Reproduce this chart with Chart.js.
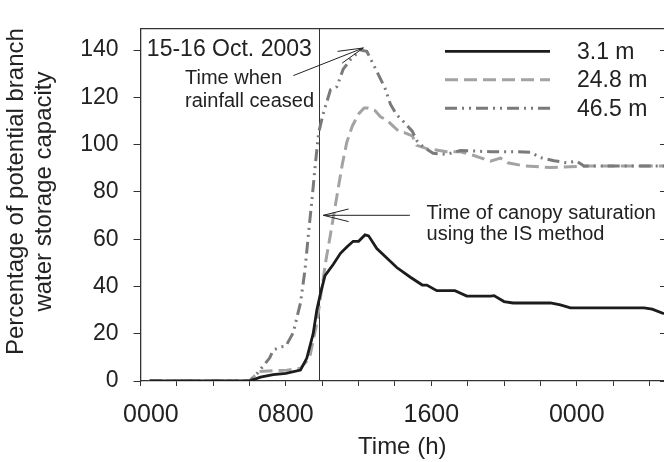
<!DOCTYPE html>
<html>
<head>
<meta charset="utf-8">
<script src="https://cdn.jsdelivr.net/npm/chart.js@4/dist/chart.umd.min.js"></script>
<style>
html, body { margin: 0; padding: 0; background: #fff; }
#wrap { width: 664px; height: 462px; position: relative; }
</style>
</head>
<body>
<div id="wrap"><canvas id="myChart"></canvas></div>
<script>
Chart.defaults.color = '#222';
Chart.defaults.font.family = "'Liberation Sans', Arial, sans-serif";


// DATA
// ================================================================
// time in hours from 0000 on 15 Oct, values in % of storage capacity
var hours31 = [0.5, 6.0, 6.6, 7.3, 8.0, 8.8, 9.15, 9.5, 9.7, 9.9, 10.15, 10.6, 11.0, 11.35, 11.7, 12.0, 12.35, 12.55, 13.0, 13.55, 14.1, 14.85, 15.5, 15.75, 16.3, 17.3, 17.95, 19.25, 19.45, 20.0, 20.5, 22.55, 23.1, 23.65, 27.7, 28.15, 28.8];
var pct31   = [0, 0, 1.6, 2.7, 3.2, 4.6, 9.7, 20, 30, 37, 44.6, 49.3, 54, 56.7, 59.1, 59.1, 61.8, 61.4, 56, 52, 48, 43.9, 40.6, 40.6, 38.2, 38.2, 35.9, 35.9, 36.1, 33.6, 33, 33, 32.2, 30.9, 30.9, 30.4, 28.5];

var hours248 = [0.5, 6.0, 6.5, 7.3, 8.05, 8.8, 9.3, 9.7, 10.0, 10.2, 10.45, 10.8, 11.1, 11.35, 11.65, 12.0, 12.3, 12.5, 12.9, 13.2, 13.55, 13.9, 14.2, 14.55, 14.95, 15.2, 15.75, 16.85, 17.6, 18.3, 19.25, 19.8, 20.2, 21.1, 22.55, 24.75, 26.6, 28.8];
var pct248   = [0, 0, 4, 4.3, 4.6, 5.4, 9.7, 24.5, 40.6, 51, 62, 78, 91.6, 101, 107.8, 113, 115.5, 115.5, 114.4, 111.8, 110.4, 107.8, 105.7, 105, 103.7, 99.7, 98.3, 97, 97, 95.5, 93, 94.3, 92.3, 91, 90.3, 91, 91, 91];

var hours465 = [0.5, 6.0, 6.4, 7.1, 7.3, 7.7, 8.0, 8.4, 8.8, 9.05, 9.25, 9.45, 9.6, 9.8, 10.05, 10.45, 10.8, 11.15, 11.55, 12.1, 12.45, 13.0, 13.45, 13.75, 14.0, 14.2, 14.55, 14.95, 15.2, 15.55, 16.1, 16.85, 17.6, 19.25, 20.5, 21.45, 22.0, 22.75, 23.45, 24.0, 24.4, 28.8];
var pct465   = [0, 0, 3, 9.7, 13, 14.4, 14.8, 20.4, 33, 47, 63, 78, 90.3, 105, 113, 123.2, 124.5, 131.9, 136, 140, 139.5, 131, 123.9, 117.1, 113.8, 111.8, 109.1, 105.7, 101.7, 99, 96.3, 95.9, 97.5, 97, 97, 96.8, 94.5, 93.2, 92.3, 93, 91, 91];

var seriesLabels = ['3.1 m', '24.8 m', '46.5 m'];

var xTickHours  = [0, 8, 16, 24];
var xTickLabels = ['   0000', '0800', '1600', '0000'];

var rainCeased = 9.82;  // time of the vertical line

// text notes, placed in data units (hours, %)
var noteTexts = [
	{ text: '15-16 Oct. 2003',           x: 0.35,  y: 137.3, size: 23 },
	{ text: 'Time when',                 x: 2.45,  y: 125.5, size: 20 },
	{ text: 'rainfall ceased',           x: 2.45,  y: 116.0, size: 20 },
	{ text: 'Time of canopy saturation', x: 15.74, y: 68.4,  size: 20 },
	{ text: 'using the IS method',       x: 15.74, y: 59.7,  size: 20 }
];
var noteArrows = [
	{ from: [8.41, 129.2],  to: [12.26, 140.9] },
	{ from: [14.82, 70.1],  to: [10.06, 70.1] }
];

function toPoints(xs, ys) {
	return xs.map((x, i) => ({ x: x, y: ys[i] }));
}


// Plugins
// ================================================================
var notesPlugin = {
	id: 'notes',
	beforeDatasetsDraw(chart) {
		const { ctx, chartArea: a, scales: { x } } = chart;
		const vx = Math.round(x.getPixelForValue(rainCeased)) + 0.5;
		ctx.save();
		ctx.strokeStyle = '#333';
		ctx.lineWidth = 1;
		ctx.beginPath();
		ctx.moveTo(vx, a.top);
		ctx.lineTo(vx, a.bottom);
		ctx.stroke();
		ctx.restore();
	},
	afterDatasetsDraw(chart) {
		const { ctx, scales: { x, y } } = chart;
		ctx.save();
		ctx.fillStyle = '#222';
		ctx.textBaseline = 'alphabetic';
		ctx.textAlign = 'left';
		noteTexts.forEach(n => {
			ctx.font = n.size + "px 'Liberation Sans', Arial, sans-serif";
			ctx.fillText(n.text, x.getPixelForValue(n.x), y.getPixelForValue(n.y));
		});

		ctx.strokeStyle = '#222';
		ctx.lineWidth = 1;
		noteArrows.forEach(ar => {
			const x0 = x.getPixelForValue(ar.from[0]), y0 = y.getPixelForValue(ar.from[1]);
			const x1 = x.getPixelForValue(ar.to[0]),   y1 = y.getPixelForValue(ar.to[1]);
			const ang = Math.atan2(y0 - y1, x0 - x1);
			const len = 26, spread = 14 * Math.PI / 180;
			ctx.beginPath();
			ctx.moveTo(x0, y0);
			ctx.lineTo(x1, y1);
			ctx.moveTo(x1 + len * Math.cos(ang - spread), y1 + len * Math.sin(ang - spread));
			ctx.lineTo(x1, y1);
			ctx.lineTo(x1 + len * Math.cos(ang + spread), y1 + len * Math.sin(ang + spread));
			ctx.stroke();
		});
		ctx.restore();
	},
	afterDraw(chart) {
		// legend, top right inside the plot
		const { ctx, chartArea: a } = chart;
		ctx.save();
		ctx.font = "23px 'Liberation Sans', Arial, sans-serif";
		ctx.textBaseline = 'middle';
		ctx.textAlign = 'left';
		chart.data.datasets.forEach((ds, i) => {
			const ry = a.top + 22.5 + i * 28.5;
			ctx.strokeStyle = ds.borderColor;
			ctx.lineWidth = ds.borderWidth;
			ctx.setLineDash(ds.borderDash || []);
			ctx.beginPath();
			ctx.moveTo(a.right - 219, ry);
			ctx.lineTo(a.right - 114, ry);
			ctx.stroke();
			ctx.setLineDash([]);
			ctx.fillStyle = '#222';
			ctx.fillText(ds.label, a.right - 87, ry + 1);
		});
		ctx.restore();
	}
};


// OPTIONS
// ================================================================
var data = {
	datasets: [
		{
			label: seriesLabels[0],
			data: toPoints(hours31, pct31),
			borderColor: '#1c1c1c',
			borderWidth: 2.8,
			borderDash: [],
			order: 1
		},
		{
			label: seriesLabels[1],
			data: toPoints(hours248, pct248),
			borderColor: '#a3a3a3',
			borderWidth: 3,
			borderDash: [13, 6],
			order: 3
		},
		{
			label: seriesLabels[2],
			data: toPoints(hours465, pct465),
			borderColor: '#7a7a7a',
			borderWidth: 3,
			borderDash: [12, 5, 2, 5, 2, 5],
			order: 2
		}
	]
};

var options = {
	responsive: true,
	maintainAspectRatio: false,
	animation: false,
	layout: { padding: { top: 11, right: 0, left: 0, bottom: 0 } },
	elements: {
		point: { radius: 0 },
		line: { tension: 0, fill: false }
	},
	plugins: {
		legend: { display: false },
		tooltip: { enabled: false }
	},
	scales: {
		x: {
			type: 'linear',
			position: 'bottom',
			min: 0,
			max: 28.8,
			afterFit: s => { s.height = 81; },
			ticks: {
				stepSize: 2,
				autoSkip: false,
				includeBounds: false,
				maxRotation: 0,
				padding: 14,
				color: '#222',
				font: { size: 25 },
				callback: v => {
					const k = xTickHours.indexOf(v);
					return k >= 0 ? xTickLabels[k] : '';
				}
			},
			grid: { drawOnChartArea: false, tickLength: 5, color: '#333', lineWidth: 1 },
			border: { color: '#333', width: 1.3 },
			title: {
				display: true,
				text: 'Time (h)',
				color: '#222',
				font: { size: 24 },
				padding: { top: 0, bottom: 0 }
			}
		},
		xTop: {
			type: 'linear',
			position: 'top',
			min: 0,
			max: 28.8,
			afterFit: s => { s.height = 0; },
			ticks: { display: false },
			grid: { display: false, drawTicks: false },
			border: { color: '#333', width: 1.3 }
		},
		y: {
			position: 'left',
			min: 0,
			max: 149,
			afterFit: s => { s.width = 140.5; },
			ticks: {
				stepSize: 20,
				includeBounds: false,
				padding: 15,
				color: '#222',
				font: { size: 23 }
			},
			grid: { drawOnChartArea: false, tickLength: 7, color: '#333', lineWidth: 1 },
			border: { color: '#333', width: 1.3 },
			title: {
				display: true,
				text: ['    Percentage of potential branch', '    water storage capacity'],
				color: '#222',
				font: { size: 24, lineHeight: 1.18 },
				padding: { top: 2, bottom: 0 }
			}
		},
		yRight: {
			position: 'right',
			min: 0,
			max: 149,
			afterFit: s => { s.width = 0; },
			ticks: { display: false, stepSize: 20, includeBounds: false },
			grid: { drawOnChartArea: false, tickLength: -4, color: '#333', lineWidth: 1 },
			border: { display: false }
		}
	}
};


// Create the chart
var ctx = document.getElementById('myChart').getContext('2d');
var Render = new Chart(ctx, {
	type: 'line',
	data: data,
	options: options,
	plugins: [notesPlugin]
});
</script>
</body>
</html>
